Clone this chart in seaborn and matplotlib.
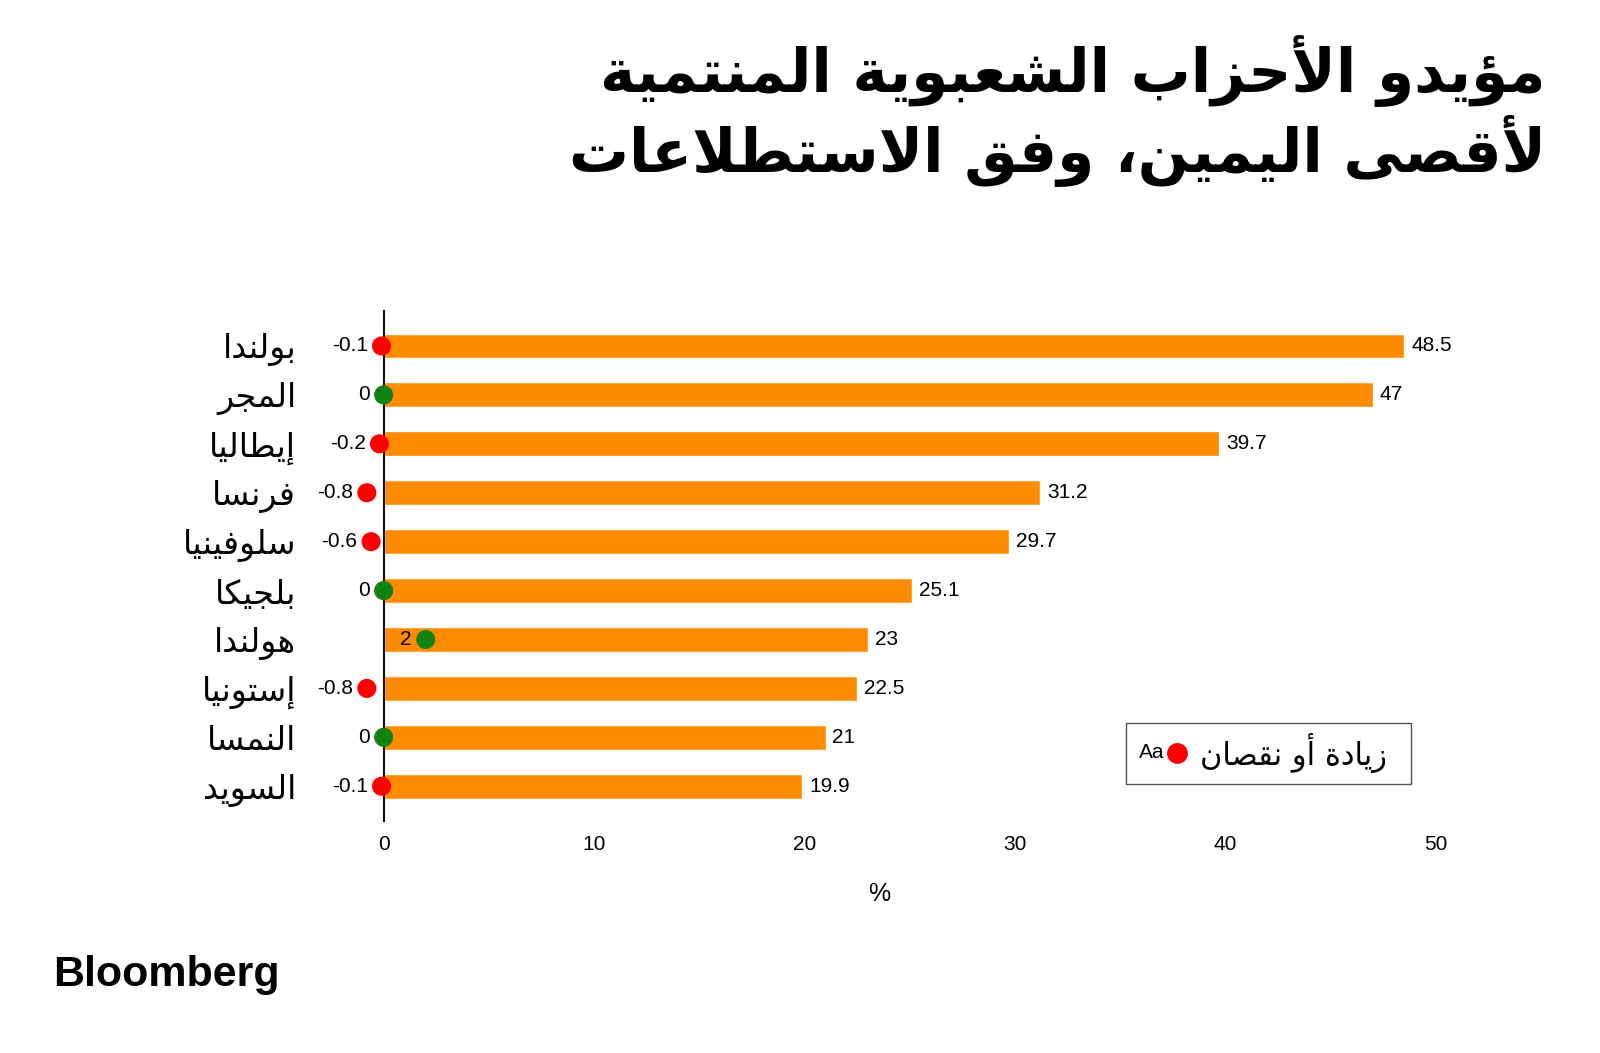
import matplotlib
matplotlib.use('Agg')
import matplotlib.pyplot as plt
import seaborn as sns
import numpy as np

# data
countries = ['بولندا', 'المجر', 'إيطاليا', 'فرنسا', 'سلوفينيا', 'بلجيكا',
             'هولندا', 'إستونيا', 'النمسا', 'السويد']
support = [48.5, 47, 39.7, 31.2, 29.7, 25.1, 23, 22.5, 21, 19.9]
change = [-0.1, 0, -0.2, -0.8, -0.6, 0, 2, -0.8, 0, -0.1]
x_ticks = [0, 10, 20, 30, 40, 50]

title_1 = 'مؤيدو الأحزاب الشعبوية المنتمية'
title_2 = 'لأقصى اليمين، وفق الاستطلاعات'
legend_label = 'زيادة أو نقصان'

# matplotlib has no arabic shaping, so map letters to presentation forms
# first code point in Presentation Forms-B and number of forms
FORMS = {
    'ء': (0xFE80, 1), 'آ': (0xFE81, 2), 'أ': (0xFE83, 2), 'ؤ': (0xFE85, 2),
    'إ': (0xFE87, 2), 'ئ': (0xFE89, 4), 'ا': (0xFE8D, 2), 'ب': (0xFE8F, 4),
    'ة': (0xFE93, 2), 'ت': (0xFE95, 4), 'ث': (0xFE99, 4), 'ج': (0xFE9D, 4),
    'ح': (0xFEA1, 4), 'خ': (0xFEA5, 4), 'د': (0xFEA9, 2), 'ذ': (0xFEAB, 2),
    'ر': (0xFEAD, 2), 'ز': (0xFEAF, 2), 'س': (0xFEB1, 4), 'ش': (0xFEB5, 4),
    'ص': (0xFEB9, 4), 'ض': (0xFEBD, 4), 'ط': (0xFEC1, 4), 'ظ': (0xFEC5, 4),
    'ع': (0xFEC9, 4), 'غ': (0xFECD, 4), 'ف': (0xFED1, 4), 'ق': (0xFED5, 4),
    'ك': (0xFED9, 4), 'ل': (0xFEDD, 4), 'م': (0xFEE1, 4), 'ن': (0xFEE5, 4),
    'ه': (0xFEE9, 4), 'و': (0xFEED, 2), 'ى': (0xFEEF, 2), 'ي': (0xFEF1, 4),
}
LAM_ALEF = {'آ': 0xFEF5, 'أ': 0xFEF7, 'إ': 0xFEF9, 'ا': 0xFEFB}


def joins(tok):
    return tok is not None and (tok[0] == 'LA' or FORMS.get(tok[1], (0, 0))[1] >= 2)


def dual(tok):
    return tok is not None and tok[0] == 'C' and FORMS.get(tok[1], (0, 0))[1] == 4


def shape(text):
    tokens = []
    i = 0
    while i < len(text):
        c = text[i]
        if c == 'ل' and i + 1 < len(text) and text[i + 1] in LAM_ALEF:
            tokens.append(('LA', text[i + 1]))
            i += 2
        else:
            tokens.append(('C', c))
            i += 1
    out = []
    for k, tok in enumerate(tokens):
        prev = tokens[k - 1] if k > 0 else None
        nxt = tokens[k + 1] if k + 1 < len(tokens) else None
        jp = dual(prev) and joins(tok)
        if tok[0] == 'LA':
            out.append(chr(LAM_ALEF[tok[1]] + (1 if jp else 0)))
            continue
        c = tok[1]
        if c not in FORMS:
            out.append(c)
            continue
        start, n = FORMS[c]
        jn = n == 4 and joins(nxt)
        out.append(chr(start + int(jp) + 2 * int(jn)))
    return ''.join(reversed(out))


ARABIC = 'DejaVu Sans'
LATIN = 'Liberation Sans'

sns.set_style('white')
plt.rcParams['font.family'] = [LATIN, 'DejaVu Sans']
plt.rcParams['text.color'] = 'black'
plt.rcParams['xtick.color'] = 'black'
plt.rcParams['ytick.color'] = 'black'

fig = plt.figure(figsize=(16, 10.53), dpi=100)
ax = fig.add_axes([0.2398, 0.2199, 0.6575, 0.4845])

labels = [shape(c) for c in countries]
sns.barplot(x=support, y=labels, color='#ff8c00', saturation=1, width=0.51,
            orient='h', ax=ax)

ax.set_xlim(0, 50)
ax.set_ylim(9.72, -0.71)
ax.set_xticks(x_ticks)
ax.set_xticklabels([str(t) for t in x_ticks], fontsize=15)
ax.tick_params(axis='x', length=0, pad=10, labelcolor='black')
ax.tick_params(axis='y', length=0, pad=63, labelcolor='black')
for t in ax.get_yticklabels():
    t.set_fontfamily(ARABIC)
    t.set_fontsize(24)
ax.set_xlabel('')
ax.set_ylabel('')

for s in ['top', 'right', 'bottom']:
    ax.spines[s].set_visible(False)
ax.spines['left'].set_color('#111111')
ax.spines['left'].set_linewidth(1.5)

# value at bar ends
for i, v in enumerate(support):
    ax.annotate(f'{v:g}', (v, i), xytext=(5, 0), textcoords='offset points',
                ha='left', va='center', fontsize=15, color='black')

# change dots
dot_colors = ['#ff0000' if c < 0 else '#128212' for c in change]
ax.scatter(change, range(len(change)), c=dot_colors, s=190, zorder=4,
           clip_on=False, linewidths=0)
for i, c in enumerate(change):
    ax.annotate(f'{c:g}', (c, i), xytext=(-10, 0), textcoords='offset points',
                ha='right', va='center', fontsize=15, color='black',
                annotation_clip=False)

ax.text(0.471, -0.142, '%', transform=ax.transAxes, ha='center', va='center',
        fontsize=18, color='black')

# title
fig.text(1546 / 1600, 1 - 71 / 1053, shape(title_1), ha='right', va='center',
         fontsize=43, fontweight='bold', family=ARABIC, color='black')
fig.text(1546 / 1600, 1 - 151 / 1053, shape(title_2), ha='right', va='center',
         fontsize=43, fontweight='bold', family=ARABIC, color='black')

# legend box
box = plt.Rectangle((1125.5 / 1600, 1 - 783.7 / 1053), 285.5 / 1600, 61.2 / 1053,
                    transform=fig.transFigure, fill=False, edgecolor='#555555',
                    linewidth=1)
fig.add_artist(box)
fig.text(1387 / 1600, 1 - 753 / 1053, shape(legend_label), ha='right', va='center',
         fontsize=22, family=ARABIC, color='black')
fig.add_artist(plt.Line2D([1177 / 1600], [1 - 753 / 1053], marker='o', markersize=14,
                          color='#ff0000', transform=fig.transFigure))
fig.text(1164 / 1600, 1 - 753 / 1053, 'Aa', ha='right', va='center', fontsize=15,
         color='black')

fig.text(53 / 1600, 1 - 975 / 1053, 'Bloomberg', ha='left', va='center',
         fontsize=31, fontweight='bold', family=LATIN, color='black')

fig.savefig('out.png', dpi=100)
